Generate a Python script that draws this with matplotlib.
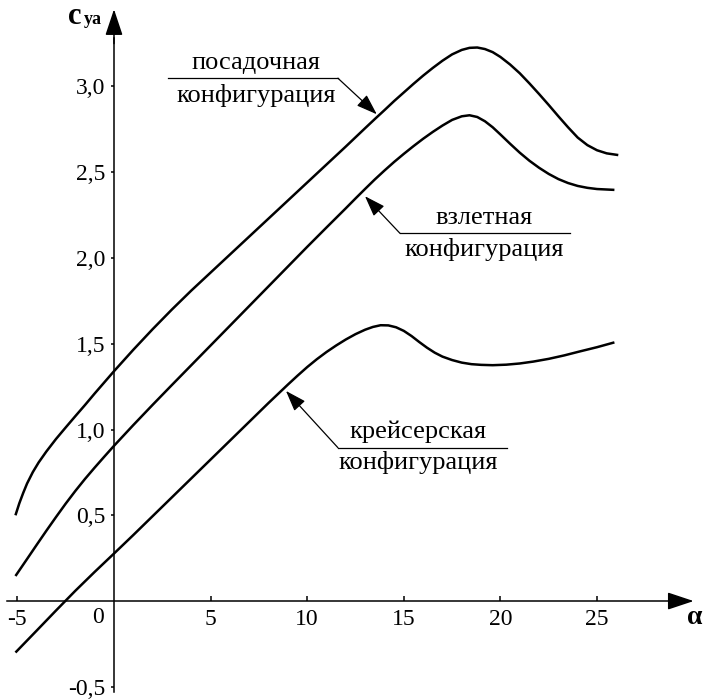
import matplotlib
matplotlib.use("Agg")
import matplotlib.pyplot as plt

plt.rcParams['font.family'] = ['Liberation Serif', 'DejaVu Serif']
plt.rcParams['axes.unicode_minus'] = False

# --- data ---
alpha_landing = [-5.1, -4.9, -4.7, -4.5, -4.2, -3.9, -3.5, -3.0, -2.5, -2.0, -1.5, -1.0, -0.5,
                 0.0, 1.0, 2.0, 3.0, 4.0, 5.0, 6.0, 7.0, 8.0, 9.0, 10.0, 11.0, 12.0, 13.0,
                 13.5, 14.0, 14.5, 15.0, 15.5, 16.0, 16.5, 17.0, 17.5, 18.0, 18.4, 18.8,
                 19.2, 19.6, 20.0, 20.5, 21.0, 21.5, 22.0, 22.5, 23.0, 23.5, 24.0, 24.5,
                 25.0, 25.5, 26.1]
cy_landing = [0.50, 0.57, 0.63, 0.685, 0.752, 0.808, 0.872, 0.945, 1.012, 1.078, 1.143, 1.21,
              1.275, 1.34, 1.465, 1.585, 1.70, 1.81, 1.915, 2.02, 2.125, 2.23, 2.335, 2.44,
              2.545, 2.65, 2.757, 2.81, 2.862, 2.915, 2.965, 3.015, 3.063, 3.108, 3.15,
              3.187, 3.213, 3.225, 3.227, 3.218, 3.20, 3.172, 3.128, 3.077, 3.018, 2.956,
              2.892, 2.826, 2.762, 2.702, 2.658, 2.628, 2.61, 2.60]

alpha_takeoff = [-5.1, -4.5, -4.0, -3.5, -3.0, -2.5, -2.0, -1.5, -1.0, -0.5, 0.0, 1.0, 2.0,
                 3.0, 4.0, 5.0, 6.0, 7.0, 8.0, 9.0, 10.0, 11.0, 12.0, 12.5, 13.0, 13.5,
                 14.0, 14.5, 15.0, 15.5, 16.0, 16.5, 17.0, 17.5, 18.0, 18.4, 18.8, 19.2,
                 19.6, 20.0, 20.5, 21.0, 21.5, 22.0, 22.5, 23.0, 23.5, 24.0, 24.5, 25.0, 25.9]
cy_takeoff = [0.146, 0.245, 0.328, 0.41, 0.49, 0.568, 0.642, 0.712, 0.778, 0.842, 0.905,
              1.026, 1.144, 1.26, 1.375, 1.49, 1.605, 1.72, 1.835, 1.95, 2.065, 2.178,
              2.29, 2.347, 2.403, 2.458, 2.51, 2.56, 2.607, 2.652, 2.695, 2.735, 2.772,
              2.805, 2.826, 2.832, 2.822, 2.797, 2.762, 2.72, 2.666, 2.614, 2.567, 2.526,
              2.49, 2.46, 2.437, 2.42, 2.409, 2.402, 2.397]

alpha_cruise = [-5.1, -4.0, -3.0, -2.0, -1.0, 0.0, 1.0, 2.0, 3.0, 4.0, 5.0, 6.0, 7.0, 8.0,
                9.0, 9.5, 10.0, 10.5, 11.0, 11.5, 12.0, 12.5, 13.0, 13.4, 13.8, 14.2, 14.6,
                15.0, 15.4, 15.8, 16.2, 16.6, 17.0, 17.5, 18.0, 18.5, 19.0, 19.6, 20.3,
                21.0, 21.7, 22.5, 23.3, 24.1, 25.0, 25.9]
cy_cruise = [-0.30, -0.172, -0.055, 0.06, 0.17, 0.277, 0.385, 0.495, 0.605, 0.715, 0.825,
             0.935, 1.045, 1.155, 1.262, 1.314, 1.364, 1.41, 1.452, 1.49, 1.525, 1.556,
             1.582, 1.598, 1.608, 1.607, 1.596, 1.575, 1.545, 1.51, 1.477, 1.448, 1.425,
             1.405, 1.39, 1.381, 1.377, 1.375, 1.378, 1.385, 1.396, 1.412, 1.432, 1.455,
             1.48, 1.508]

x_ticks = [-5, 5, 10, 15, 20, 25]
x_tick_labels = ['-5', '5', '10', '15', '20', '25']
y_ticks = [-0.5, 0.5, 1.0, 1.5, 2.0, 2.5, 3.0]
y_tick_labels = ['-0,5', '0,5', '1,0', '1,5', '2,0', '2,5', '3,0']

label_landing = ['посадочная', 'конфигурация']
label_takeoff = ['взлетная', 'конфигурация']
label_cruise = ['крейсерская', 'конфигурация']

# --- figure ---
W, H = 706, 699
fig = plt.figure(figsize=(W / 100, H / 100), dpi=100)
ax = fig.add_axes([0, 0, 1, 1])
ax.set_xlim(-5.90, 30.64)
ax.set_ylim(-0.571, 3.504)

for s in ['top', 'right']:
    ax.spines[s].set_visible(False)
ax.spines['left'].set_position(('data', 0))
ax.spines['bottom'].set_position(('data', 0))
ax.spines['left'].set_bounds(-0.53, 3.28)
ax.spines['bottom'].set_bounds(-5.55, 29.3)
for s in ['left', 'bottom']:
    ax.spines[s].set_linewidth(1.1)

ax.set_xticks(x_ticks)
ax.set_xticklabels(x_tick_labels)
ax.set_yticks(y_ticks)
ax.set_yticklabels(y_tick_labels)
ax.tick_params(axis='x', direction='in', length=3.5, width=1.1, pad=6, labelsize=17)
ax.tick_params(axis='y', direction='out', length=2.5, width=1.1, pad=3.5, labelsize=17)
ax.set_facecolor('none')

# "0" label left of the origin
ax.text(-0.85, -0.098, '0', ha='center', va='center', fontsize=17)

# axis arrowheads
ax.annotate('', xy=(0, 3.45), xytext=(0, 3.25),
            arrowprops=dict(arrowstyle='-|>,head_length=0.9,head_width=0.3',
                            color='black', lw=1.1, shrinkA=0, shrinkB=0, mutation_scale=18),
            annotation_clip=False)
ax.annotate('', xy=(30.0, 0), xytext=(29.0, 0),
            arrowprops=dict(arrowstyle='-|>,head_length=0.9,head_width=0.3',
                            color='black', lw=1.1, shrinkA=0, shrinkB=0, mutation_scale=18),
            annotation_clip=False)

# axis titles
fig.text(75 / W, 1 - 16 / H, 'c', fontsize=22, fontweight='bold', ha='center', va='center')
fig.text(93 / W, 1 - 20 / H, 'ya', fontsize=13, fontweight='bold', ha='center', va='center')
fig.text(695 / W, 1 - 617 / H, 'α', fontsize=20, fontweight='bold', ha='center', va='center')

# curves
for a, c in [(alpha_landing, cy_landing), (alpha_takeoff, cy_takeoff), (alpha_cruise, cy_cruise)]:
    ax.plot(a, c, color='black', lw=1.8, solid_capstyle='butt', solid_joinstyle='round')


def callout(lines, text_x, top_y, bot_y, line_y, line_x0, line_x1, start, tip):
    ax.text(text_x, top_y, lines[0], ha='center', va='center', fontsize=19)
    ax.text(text_x, bot_y, lines[1], ha='center', va='center', fontsize=19)
    ax.plot([line_x0, line_x1], [line_y, line_y], color='black', lw=0.9)
    ax.annotate('', xy=tip, xytext=start,
                arrowprops=dict(arrowstyle='-|>,head_length=0.8,head_width=0.28',
                                color='black', lw=0.9, shrinkA=0, shrinkB=0,
                                mutation_scale=16))


callout(label_landing, 7.35, 3.137, 2.95, 3.048, 2.80, 11.59, (11.59, 3.048), (13.6, 2.838))
callout(label_takeoff, 19.15, 2.233, 2.047, 2.144, 14.80, 23.60, (14.80, 2.144), (12.99, 2.36))
callout(label_cruise, 15.73, 0.987, 0.805, 0.894, 11.59, 20.33, (11.59, 0.894), (8.9, 1.225))

fig.savefig('out.png', dpi=100, facecolor='white')
